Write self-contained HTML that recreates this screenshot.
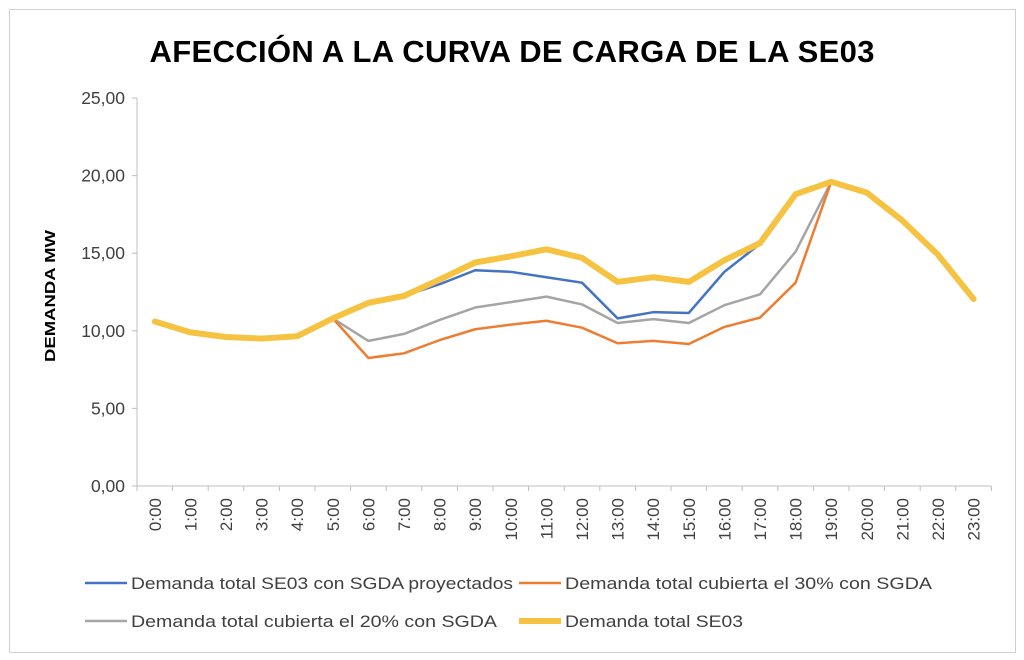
<!DOCTYPE html>
<html><head><meta charset="utf-8"><style>
body{margin:0;background:#fff;}
svg{display:block;font-family:"Liberation Sans",sans-serif;}
</style></head><body>
<svg id="chart" width="1024" height="660">
<rect x="9.5" y="9.5" width="1006" height="643" fill="#fff" stroke="#d0d0d0"/>
<text x="512" y="62" text-anchor="middle" font-size="31" font-weight="bold" fill="#000" textLength="725">AFECCIÓN A LA CURVA DE CARGA DE LA SE03</text>
<text transform="translate(55,296) rotate(-90)" text-anchor="middle" font-size="15" font-weight="bold" textLength="132" lengthAdjust="spacingAndGlyphs">DEMANDA MW</text>
<g id="axes"></g><g id="series"></g><g id="legend"></g>
</svg>
<script>
const categories=["0:00","1:00","2:00","3:00","4:00","5:00","6:00","7:00","8:00","9:00","10:00","11:00","12:00","13:00","14:00","15:00","16:00","17:00","18:00","19:00","20:00","21:00","22:00","23:00"];
const yTicks=[0,5,10,15,20,25];
const total=[10.6,9.9,9.6,9.5,9.65,10.8,11.8,12.25,13.3,14.4,14.8,15.25,14.7,13.15,13.45,13.15,14.55,15.65,18.8,19.6,18.9,17.1,14.9,12.05];
const proyect=[10.6,9.9,9.6,9.5,9.65,10.8,11.8,12.25,13.0,13.9,13.8,13.45,13.1,10.8,11.2,11.15,13.8,15.6,18.8,19.6,18.9,17.1,14.9,12.05];
const pct30=[10.6,9.9,9.6,9.5,9.65,10.8,8.25,8.55,9.4,10.1,10.4,10.65,10.2,9.2,9.35,9.15,10.25,10.85,13.1,19.6,18.9,17.1,14.9,12.05];
const pct20=[10.6,9.9,9.6,9.5,9.65,10.8,9.35,9.8,10.7,11.5,11.85,12.2,11.7,10.5,10.75,10.5,11.65,12.35,15.1,19.6,18.9,17.1,14.9,12.05];
const NS="http://www.w3.org/2000/svg";
const x0=137,step=35.6,yBase=486,yTop=98,yMax=25;
function X(i){return x0+step*(i+0.5);}
function Y(v){return yBase-(yBase-yTop)*v/yMax;}
function mk(tag,attrs,parent){const e=document.createElementNS(NS,tag);for(const k in attrs)e.setAttribute(k,attrs[k]);parent.appendChild(e);return e;}
const axes=document.getElementById('axes');
let yl=mk('line',{x1:x0,y1:Y(0),x2:x0,y2:Y(25),stroke:'#bfbfbf'},axes);


yTicks.forEach(t=>{
 let tk=mk('line',{x1:x0-5,y1:Y(t),x2:x0,y2:Y(t),stroke:'#bfbfbf'},axes);
 
 
 let tx=mk('text',{x:x0-12,y:Y(t)+6,'text-anchor':'end','font-size':17.5,fill:'#404040'},axes);
 tx.textContent=t.toFixed(2).replace('.',',');
 
 
});
let xl=mk('line',{x1:x0,y1:Y(0),x2:x0+step*categories.length,y2:Y(0),stroke:'#bfbfbf'},axes);


for(let i=0;i<=categories.length;i++){
 let tk=mk('line',{x1:x0+step*i,y1:Y(0),x2:x0+step*i,y2:Y(0)+5,stroke:'#bfbfbf'},axes);
 
 
}
categories.forEach((c,i)=>{
 let tx=mk('text',{transform:`translate(${X(i)+6},${Y(0)+12}) rotate(-90)`,'text-anchor':'end','font-size':17,fill:'#404040'},axes);
 tx.textContent=c;
 
 
});
const series=document.getElementById('series');
function line(data,color,w,name){
 let p=mk('polyline',{points:data.map((v,i)=>X(i)+','+Y(v)).join(' '),fill:'none',stroke:color,'stroke-width':w,'stroke-linejoin':'round','stroke-linecap':'round'},series);
 
 
}
line(pct20,'#a5a5a5',2.5,'series-20pct');
line(pct30,'#ed7d31',2.5,'series-30pct');
line(proyect,'#4472c4',2.5,'series-proyectados');
line(total,'#f5c242',6,'series-total');
const lg=document.getElementById('legend');
function leg(x,y,color,w,label,len,name){
 let l=mk('line',{x1:x,y1:y,x2:x+42,y2:y,stroke:color,'stroke-width':w},lg);
 
 
 let t=mk('text',{x:x+46,y:y+6,'font-size':17,fill:'#404040',textLength:len,lengthAdjust:'spacingAndGlyphs'},lg);
 t.textContent=label;
 
 
}
leg(85,583,'#4472c4',2.5,'Demanda total SE03 con SGDA proyectados',382,'legend-proyectados');
leg(519,583,'#ed7d31',2.5,'Demanda total cubierta  el 30% con SGDA',367,'legend-30pct');
leg(85,621,'#a5a5a5',2.5,'Demanda total cubierta  el 20% con SGDA',366,'legend-20pct');
leg(519,621,'#f5c242',6,'Demanda total SE03',178,'legend-total');
</script>
</body></html>
